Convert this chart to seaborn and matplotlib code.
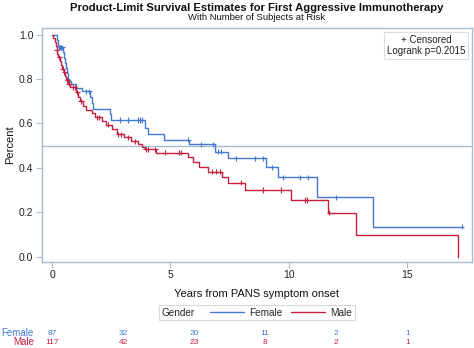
import numpy as np
import pandas as pd
import matplotlib
matplotlib.use("Agg")
import matplotlib.pyplot as plt
import seaborn as sns
from matplotlib.transforms import blended_transform_factory
from matplotlib.offsetbox import HPacker

# Kaplan-Meier step estimates (time in years, survival fraction after each step)
female_t = [0, 0.21, 0.25, 0.28, 0.46, 0.51, 0.55, 0.59, 0.63, 0.68, 0.72, 0.80, 1.00, 1.25,
            1.62, 1.70, 1.75, 2.45, 2.48, 3.92, 4.05, 4.73, 5.78, 6.88, 7.44, 9.03, 9.55,
            11.19, 13.53, 17.29]
female_s = [1.0, 0.977, 0.955, 0.943, 0.92, 0.897, 0.874, 0.85, 0.826, 0.80, 0.789, 0.777, 0.759, 0.744,
            0.72, 0.693, 0.666, 0.641, 0.616, 0.58, 0.552, 0.526, 0.506, 0.473, 0.443, 0.403, 0.358,
            0.268, 0.135, 0.135]
female_cens = [0.31, 0.35, 0.39, 0.43, 1.45, 1.57, 2.87, 3.21, 3.63, 3.71, 3.78, 5.75, 6.27, 6.80,
               7.00, 7.12, 7.76, 8.57, 8.92, 9.27, 9.76, 10.46, 10.81, 11.98, 17.29]

male_t = [0, 0.06, 0.11, 0.15, 0.19, 0.23, 0.27, 0.34, 0.38, 0.42, 0.49, 0.55, 0.61, 0.68, 0.76,
          1.03, 1.10, 1.18, 1.31, 1.43, 1.69, 1.81, 2.11, 2.28, 2.53, 2.74, 3.04, 3.32, 3.61,
          3.78, 3.92, 4.39, 5.74, 5.94, 6.20, 6.58, 7.16, 7.44, 8.14, 10.07, 11.63, 12.83, 17.14]
male_s = [1.0, 0.983, 0.966, 0.949, 0.932, 0.915, 0.898, 0.881, 0.864, 0.847, 0.830, 0.813, 0.796, 0.779, 0.762,
          0.74, 0.72, 0.70, 0.68, 0.662, 0.645, 0.627, 0.61, 0.594, 0.575, 0.552, 0.537, 0.52, 0.506,
          0.495, 0.484, 0.469, 0.45, 0.428, 0.405, 0.383, 0.36, 0.333, 0.30, 0.255, 0.198, 0.098, 0.0]
male_cens = [0.20, 0.30, 0.45, 0.52, 0.64, 0.72, 0.88, 0.95, 1.06, 1.22, 1.91, 1.99, 2.37, 2.80, 2.91,
             3.19, 3.50, 3.97, 4.04, 4.35, 4.77, 5.36, 5.44, 6.74, 6.90, 7.09, 7.96, 8.92, 9.66,
             10.68, 10.76, 11.70]

# Number at risk table
risk_times = [0, 3, 6, 9, 12, 15]
female_risk = [87, 32, 20, 11, 2, 1]
male_risk = [117, 42, 23, 8, 2, 1]

groups = ["Female", "Male"]
colors = {"Female": "#4577d4", "Male": "#c42140"}
frame_col = "#a9bccb"

steps = pd.concat([
    pd.DataFrame({"t": female_t, "S": female_s, "Gender": "Female"}),
    pd.DataFrame({"t": male_t, "S": male_s, "Gender": "Male"}),
], ignore_index=True)


def surv_at(times, surv, c):
    idx = np.searchsorted(np.asarray(times), np.asarray(c), side="right") - 1
    return np.asarray(surv)[idx]


cens = pd.concat([
    pd.DataFrame({"t": female_cens, "S": surv_at(female_t, female_s, female_cens), "Gender": "Female"}),
    pd.DataFrame({"t": male_cens, "S": surv_at(male_t, male_s, male_cens), "Gender": "Male"}),
], ignore_index=True)

sns.set_style("white")
plt.rcParams["font.family"] = ["Liberation Sans", "DejaVu Sans"]

fig = plt.figure(figsize=(4.74, 3.48), dpi=100)
ax = fig.add_axes([0.088, 0.247, 0.907, 0.672])

sns.lineplot(data=steps, x="t", y="S", hue="Gender", hue_order=groups, palette=colors,
             estimator=None, sort=False, drawstyle="steps-post", linewidth=1.0, ax=ax)
sns.scatterplot(data=cens, x="t", y="S", hue="Gender", hue_order=groups, palette=colors,
                marker="+", s=14, linewidth=0.8, legend=False, ax=ax, zorder=3)

ax.axhline(0.5, color=frame_col, linewidth=1.0, zorder=1)

ax.set_xlim(-0.435, 17.71)
ax.set_ylim(-0.024, 1.029)
ax.set_xticks([0, 5, 10, 15])
ax.set_yticks([0.0, 0.2, 0.4, 0.6, 0.8, 1.0])
ax.set_yticklabels(["0.0", "0.2", "0.4", "0.6", "0.8", "1.0"])
ax.tick_params(axis="both", which="major", labelsize=7.5, length=4, width=0.8,
               color=frame_col, labelcolor="#222222", pad=2, direction="out",
               left=True, bottom=True)
for sp in ax.spines.values():
    sp.set_color(frame_col)
    sp.set_linewidth(1.0)

ax.set_xlabel("Years from PANS symptom onset", fontsize=8, color="#111111", labelpad=6)
ax.set_ylabel("Percent", fontsize=8, color="#111111", labelpad=3)

ax.text(0.985, 0.972, "+ Censored\nLogrank p=0.2015", transform=ax.transAxes, ha="right", va="top",
        multialignment="center", fontsize=7.0, linespacing=1.2, color="#222222",
        bbox=dict(boxstyle="square,pad=0.3", fc="white", ec="#dcdcdc", lw=0.8))

fig.text(0.542, 0.978, "Product-Limit Survival Estimates for First Aggressive Immunotherapy",
         ha="center", va="center", fontsize=8.1, fontweight="bold", color="#111111")
fig.text(0.542, 0.949, "With Number of Subjects at Risk", ha="center", va="center",
         fontsize=6.8, color="#111111")

# Gender legend below the axis, title placed inline with the entries
sns.move_legend(ax, "center", bbox_to_anchor=(0.542, 0.1006), bbox_transform=fig.transFigure,
                ncol=2, title="Gender", frameon=True, fontsize=7.2, title_fontsize=7.2,
                handlelength=3.4, handletextpad=0.5, columnspacing=0.9, borderpad=0.25,
                fancybox=False, edgecolor="#d0d0d0")
leg = ax.get_legend()
leg.get_frame().set_linewidth(0.8)
for line in leg.get_lines():
    line.set_linewidth(1.0)
row = HPacker(pad=0, sep=11, align="center",
              children=[leg._legend_title_box, leg._legend_handle_box])
row.set_figure(fig)
leg._legend_box._children = [row]

# At-risk counts under the chart
tr = blended_transform_factory(ax.transData, fig.transFigure)
for tt, f, m in zip(risk_times, female_risk, male_risk):
    ax.text(tt, 0.0431, str(f), transform=tr, ha="center", va="center", fontsize=6,
            color=colors["Female"])
    ax.text(tt, 0.0172, str(m), transform=tr, ha="center", va="center", fontsize=6,
            color=colors["Male"])
fig.text(0.071, 0.0431, "Female", ha="right", va="center", fontsize=7.0, color=colors["Female"])
fig.text(0.071, 0.0172, "Male", ha="right", va="center", fontsize=7.0, color=colors["Male"])

fig.savefig("out.png", dpi=100)
